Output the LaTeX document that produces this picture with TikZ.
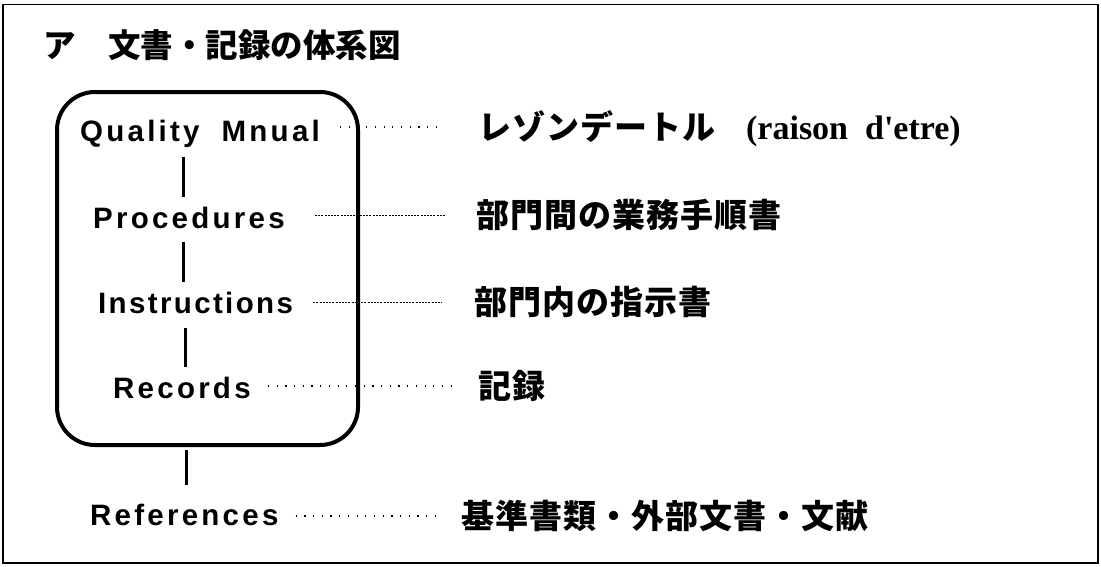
\documentclass[tikz,border=0pt]{standalone}
\usepackage{fontspec}
\newfontfamily\jpf{Noto Sans CJK JP}[LetterSpace=3]
\newfontfamily\jpt{Noto Sans CJK JP}
\newfontfamily\labf{Liberation Sans}[LetterSpace=11]
\newfontfamily\serf{Liberation Serif}
\begin{document}
\begin{tikzpicture}[x=1pt,y=-1pt]
\tikzset{
 lab/.style={font=\labf\bfseries\fontsize{29.5}{32}\selectfont, inner sep=0pt, text height=21pt, text depth=0pt, anchor=west},
 jtxt/.style={font=\jpf\bfseries\fontsize{33}{36}\selectfont, inner sep=0pt, text height=27pt, text depth=2pt, anchor=west},
 ttxt/.style={font=\jpt\bfseries\fontsize{32.5}{36}\selectfont, inner sep=0pt, text height=27pt, text depth=2pt, anchor=west},
 vline/.style={line width=3pt},
 fine/.style={line width=1pt, dash pattern=on 2pt off 1.2pt},
 sparse/.style={line width=1.2pt, dash pattern=on 1.2pt off 7.5pt},
}
\useasboundingbox (0,0) rectangle (1101,566);
\draw[line width=1.3pt] (3,4.5) rectangle (1098,563);
\node[ttxt] (title) at (43,45) {ア　文書・記録の体系図};
\node[draw, line width=4pt, rounded corners=38pt, minimum width=301pt, minimum height=353pt, inner sep=0pt] (box) at (207.5,268.5) {};
\node[lab] (qm) at (80,131) {Quality\hspace{22pt}Mnual};
\node[lab] (pr) at (93,217.5) {Procedures};
\node[lab] (in) at (98,303) {\addfontfeature{LetterSpace=8}Instructions};
\node[lab] (rc) at (113,388) {Records};
\node[lab] (rf) at (90,515) {References};
\node[jtxt] (tq) at (478,127) {レゾンデートル{\serf\bfseries\fontsize{34}{36}\selectfont\hspace{31pt}(raison\hspace{17pt}d'etre)}};
\node[jtxt] (tp) at (476,215) {部門間の業務手順書};
\node[jtxt] (ti) at (474,302) {部門内の指示書};
\node[jtxt] (tr) at (478,386) {記録};
\node[jtxt] (tf) at (461,516) {基準書類・外部文書・文献};
% vertical connectors
\draw[vline, shorten <=15.5pt, shorten >=10pt] ([xshift=90pt]pr.west |- qm.south) -- ([xshift=90pt]pr.west |- pr.north);
\draw[vline, shorten <=14pt, shorten >=10.5pt] ([xshift=85pt]in.west |- pr.south) -- ([xshift=85pt]in.west |- in.north);
\draw[vline, shorten <=14.5pt, shorten >=10.5pt] ([xshift=72pt]rc.west |- in.south) -- ([xshift=72pt]rc.west |- rc.north);
\draw[vline, shorten <=3pt, shorten >=19.5pt] ([xshift=96pt]rf.west |- box.south) -- ([xshift=96pt]rf.west |- rf.north);
% dotted leaders
\draw[sparse, shorten <=20pt, shorten >=40pt] (tq.west -| qm.east) -- (tq.west);
\draw[fine, shorten <=30pt, shorten >=31pt] (tp.west -| pr.east) -- (tp.west);
\draw[fine, shorten <=20pt, shorten >=32pt] (ti.west -| in.east) -- (ti.west);
\draw[sparse, shorten <=17pt, shorten >=23pt] (tr.west -| rc.east) -- (tr.west);
\draw[sparse, shorten <=17pt, shorten >=24pt] (tf.west -| rf.east) -- (tf.west);
\end{tikzpicture}
\end{document}
